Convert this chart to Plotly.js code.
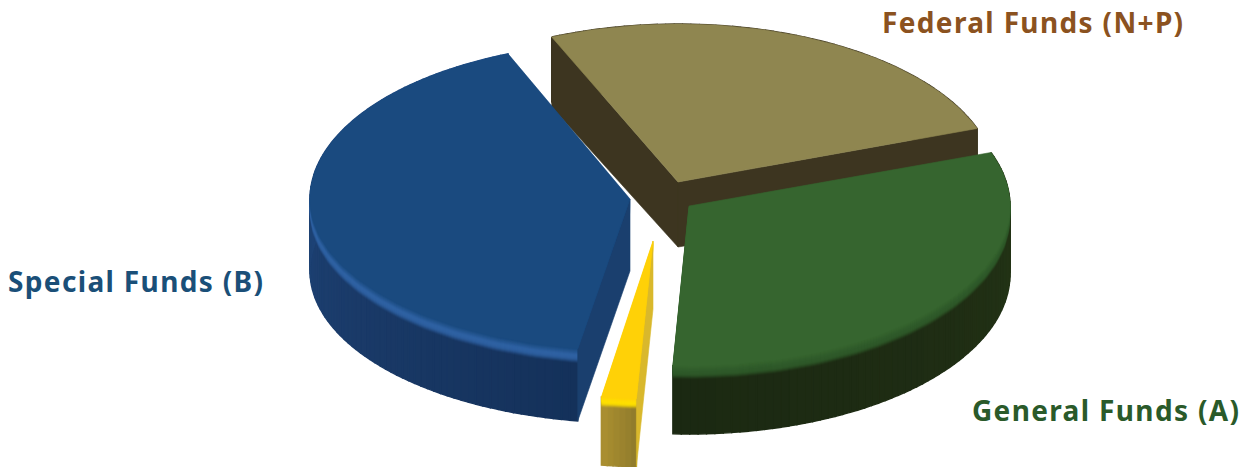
<!DOCTYPE html>
<html>
<head>
<meta charset="utf-8">
<script src="https://cdn.plot.ly/plotly-3.0.1.min.js"></script>
<style>
html,body{margin:0;padding:0;background:#fff}
#chart{width:1244px;height:467px}
.annotation-text{letter-spacing:1.35px}
</style>
</head>
<body>
<div id="chart"></div>
<script>
// Funding sources, in percent of the total, clockwise from the start angle.
const categories = ["Federal Funds (N+P)", "General Funds (A)", "Other Funds", "Special Funds (B)"];
const shares = [26, 31.3, 1.7, 41];
const startAngle = -23.4;
const total = shares.reduce((a, b) => a + b, 0);

// Drawing setup for each wedge: pivot, radii of the tilted disc and shading.
const wedges = [
  {cx: 678, cy: 182, rx: 318, back: 158, front: 158, depth: 65, cutDepth: 70, bevel: 0, trimStart: 0, trimEnd: 0,
   top: "#8f8650", band: null, wall: [[0, "#3d3520"], [1, "#3d3520"]], cut: "#3d3520", cutSide: "both"},
  {cx: 689, cy: 206, rx: 321, back: 158, front: 160, depth: 68, cutDepth: 68, bevel: 13, trimStart: 0, trimEnd: 0,
   top: "#36652f", band: "#2f5a2a", wall: [[0, "#243716"], [0.5, "#1f2d14"], [1, "#1b2912"]], cut: null},
  {cx: 653, cy: 241, rx: 330, back: 158, front: 158, depth: 68, cutDepth: 68, bevel: 10, trimStart: 0, trimEnd: 0,
   top: "#ffd107", band: "#ffe000", wall: [[0, "#8f7a2c"], [1, "#ab9030"]], cut: "#d9b82c", cutSide: "start"},
  {cx: 630, cy: 199, rx: 320, back: 157, front: 152, depth: 72, cutDepth: 72, bevel: 14, trimStart: 0.4, trimEnd: -1,
   top: "#1a4a7f", band: "#2f62a3", wall: [[0, "#14315a"], [0.4, "#1b3c6b"], [1, "#214e88"]], cut: "#1a3f6e", cutSide: "start"}
];
const labelColors = ["#8b5220", "#2a5a2a", "#000000", "#1a4f78"];
const labelPos = [[1033, 22], [1106, 410], null, [136, 281]];

const rad = d => d * Math.PI / 180;
const hex = c => [1, 3, 5].map(i => parseInt(c.slice(i, i + 2), 16));
const mix = (a, b, t) => {
  const p = hex(a), q = hex(b);
  return "rgb(" + p.map((v, i) => Math.round(v + (q[i] - v) * t)).join(",") + ")";
};
function ramp(stops, t) {
  for (let i = 1; i < stops.length; i++) {
    if (t <= stops[i][0]) {
      const u = (t - stops[i - 1][0]) / (stops[i][0] - stops[i - 1][0]);
      return mix(stops[i - 1][1], stops[i][1], u);
    }
  }
  return stops[stops.length - 1][1];
}
// Tilted-disc position of a point on a wedge's rim; angles run clockwise from the back.
function rim(w, deg) {
  const X = Math.sin(rad(deg)), Y = -Math.cos(rad(deg));
  return [w.cx + w.rx * X, w.cy + (Y < 0 ? w.back : w.front) * Y];
}
function polyTrace(xs, ys, color, opacity, lineWidth) {
  return {x: xs, y: ys, type: "scatter", mode: "lines", fill: "toself", fillcolor: color,
          line: {color: color, width: lineWidth === undefined ? 0.6 : lineWidth},
          opacity: opacity === undefined ? 1 : opacity,
          hoverinfo: "skip", showlegend: false};
}

const traces = [];
let a0 = startAngle;
shares.forEach((share, i) => {
  const w = wedges[i], a1 = a0 + share / total * 360;
  const from = a0 + w.trimStart, to = a1 - w.trimEnd;
  const steps = Math.max(6, Math.round((to - from) / 1.5));
  const arc = [];
  for (let k = 0; k <= steps; k++) arc.push(rim(w, from + (to - from) * k / steps));

  // rounded outer wall as narrow shaded strips, each stroked so neighbours close up
  for (let k = 0; k < steps; k++) {
    const p = arc[k], q = arc[k + 1];
    const t = (k + 0.5) / steps;
    traces.push(polyTrace([p[0], q[0], q[0], p[0], p[0]],
                          [p[1], q[1], q[1] + w.depth, p[1] + w.depth, p[1]], ramp(w.wall, t), 1, 1.4));
  }
  // soft bevel: copies of the face, stepped down, fading into the wall
  const faceX = [w.cx].concat(arc.map(p => p[0]), [w.cx]);
  const faceY = [w.cy].concat(arc.map(p => p[1]), [w.cy]);
  if (w.bevel) {
    for (let d = w.bevel; d >= 1; d--) {
      const t = d / w.bevel;
      const col = t < 0.45 ? mix(w.top, w.band, t / 0.45) : w.band;
      const alpha = t < 0.45 ? 1 : 1 - (t - 0.45) / 0.55 * 0.88;
      traces.push(polyTrace(faceX, faceY.map(v => v + d), col, alpha));
    }
  }
  // cut faces that look toward the viewer
  if (w.cut) {
    const faces = w.cutSide === "both" ? [arc[0], arc[arc.length - 1]] : [arc[0]];
    faces.forEach(p => {
      traces.push(polyTrace([w.cx, p[0], p[0], w.cx, w.cx],
                            [w.cy, p[1], p[1] + w.cutDepth, w.cy + w.depth, w.cy], w.cut));
    });
  }
  traces.push(polyTrace(faceX, faceY, w.top));
  a0 = a1;
});

const annotations = [];
categories.forEach((name, i) => {
  if (!labelPos[i]) return;
  annotations.push({x: labelPos[i][0], y: labelPos[i][1], xref: "x", yref: "y", text: name,
    showarrow: false, xanchor: "center", yanchor: "middle",
    font: {family: "Noto Sans", size: 28, color: labelColors[i], weight: 700}});
});

Plotly.newPlot("chart", traces, {
  width: 1244, height: 467,
  margin: {l: 0, r: 0, t: 0, b: 0},
  paper_bgcolor: "#ffffff", plot_bgcolor: "#ffffff",
  showlegend: false,
  xaxis: {range: [0, 1244], visible: false, fixedrange: true},
  yaxis: {range: [467, 0], visible: false, fixedrange: true},
  annotations: annotations
}, {displayModeBar: false, staticPlot: true});
</script>
</body>
</html>
